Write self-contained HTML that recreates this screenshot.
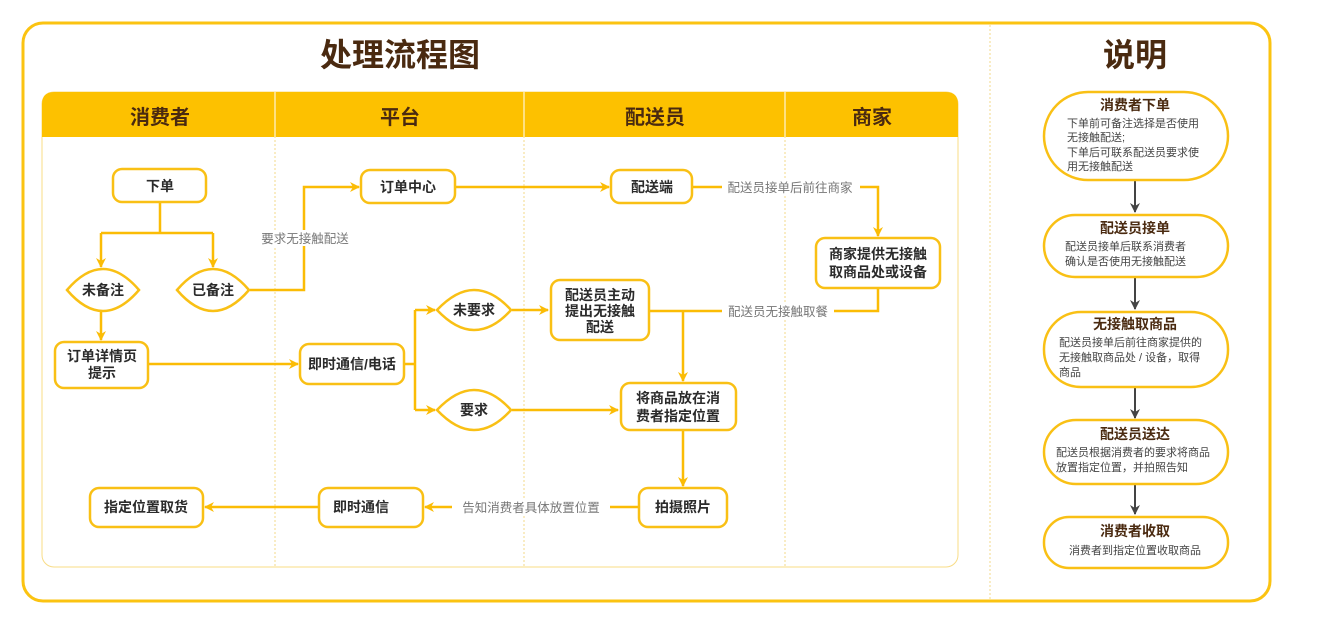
<!DOCTYPE html>
<html><head><meta charset="utf-8"><style>
html,body{margin:0;padding:0;background:#fff;width:1340px;height:625px;overflow:hidden}
text{font-family:"Liberation Sans","Noto Sans CJK SC",sans-serif}
.n{fill:#fff;stroke:#F9C015;stroke-width:2.5}
.l{fill:none;stroke:#FBBC05;stroke-width:2.5}
.t{font-size:14px;font-weight:bold;fill:#2b2b2b;text-anchor:middle}
.g{font-size:12.5px;fill:#777;text-anchor:middle}
.h{font-size:20px;font-weight:bold;fill:#4a2a10;text-anchor:middle}
.rt{font-size:14px;font-weight:bold;fill:#4a2a10;text-anchor:middle}
.rb{font-size:11px;fill:#444}
</style></head><body>
<svg width="1340" height="625" viewBox="0 0 1340 625" xmlns="http://www.w3.org/2000/svg">
<defs>
<marker id="a" markerWidth="10" markerHeight="10" refX="9" refY="5" orient="auto" markerUnits="userSpaceOnUse"><path d="M0,0 L10,5 L0,10 L3,5 z" fill="#FBBC05"/></marker>
<marker id="d" markerWidth="10" markerHeight="10" refX="9" refY="5" orient="auto" markerUnits="userSpaceOnUse"><path d="M0,0 L10,5 L0,10 L3,5 z" fill="#444"/></marker>
</defs>
<rect x="23" y="23" width="1247" height="578" rx="20" fill="#fff" stroke="#FBC311" stroke-width="3"/>
<line x1="990" y1="25" x2="990" y2="600" stroke="#F3D98A" stroke-width="1" stroke-dasharray="2,2"/>
<text x="400" y="66" style="font-size:32px;font-weight:bold;fill:#4a2a10;text-anchor:middle">处理流程图</text>
<text x="1135" y="66" style="font-size:32px;font-weight:bold;fill:#4a2a10;text-anchor:middle">说明</text>

<rect x="42" y="92" width="916" height="475" rx="12" fill="#fff" stroke="#F8DC86" stroke-width="1"/>
<path d="M42,137 L42,104 Q42,92 54,92 L946,92 Q958,92 958,104 L958,137 Z" fill="#FDC100"/>
<g stroke="#F3D98A" stroke-width="1" stroke-dasharray="2,2">
<line x1="275" y1="92" x2="275" y2="567"/><line x1="524" y1="92" x2="524" y2="567"/><line x1="785" y1="92" x2="785" y2="567"/>
</g>
<g stroke="#fff" stroke-width="1"><line x1="275" y1="92" x2="275" y2="137"/><line x1="524" y1="92" x2="524" y2="137"/><line x1="785" y1="92" x2="785" y2="137"/></g>
<text class="h" x="160" y="124">消费者</text>
<text class="h" x="400" y="124">平台</text>
<text class="h" x="655" y="124">配送员</text>
<text class="h" x="872" y="124">商家</text>

<!-- connectors -->
<path class="l" d="M160,202 V233 M101,233 H213"/>
<path class="l" d="M101,233 V267" marker-end="url(#a)"/>
<path class="l" d="M213,233 V267" marker-end="url(#a)"/>
<path class="l" d="M101,311 V340" marker-end="url(#a)"/>
<path class="l" d="M250,290 H304 V187 H359" marker-end="url(#a)"/>
<rect x="258" y="230" width="94" height="16" fill="#fff"/>
<text class="g" x="305" y="243">要求无接触配送</text>
<path class="l" d="M148,364 H298" marker-end="url(#a)"/>
<path class="l" d="M404,364 H415 M415,310 V410"/>
<path class="l" d="M415,310 H435" marker-end="url(#a)"/>
<path class="l" d="M415,410 H435" marker-end="url(#a)"/>
<path class="l" d="M455,187 H609" marker-end="url(#a)"/>
<path class="l" d="M692,187 H878 V236" marker-end="url(#a)"/>
<rect x="722" y="179" width="138" height="16" fill="#fff"/>
<text class="g" x="790" y="192">配送员接单后前往商家</text>
<path class="l" d="M878,288 V311 H649"/>
<rect x="722" y="303" width="112" height="16" fill="#fff"/>
<text class="g" x="778" y="316">配送员无接触取餐</text>
<path class="l" d="M512,310 H548" marker-end="url(#a)"/>
<path class="l" d="M683,311 V381" marker-end="url(#a)"/>
<path class="l" d="M512,410 H618" marker-end="url(#a)"/>
<path class="l" d="M683,430 V486" marker-end="url(#a)"/>
<path class="l" d="M639,507 H425" marker-end="url(#a)"/>
<rect x="452" y="499" width="158" height="16" fill="#fff"/>
<text class="g" x="531" y="512">告知消费者具体放置位置</text>
<path class="l" d="M319,507 H205" marker-end="url(#a)"/>

<!-- nodes -->
<rect class="n" x="113" y="169" width="93" height="33" rx="9"/><text class="t" x="160" y="191">下单</text>
<path class="n" d="M67,290 Q85,269 103,269 Q121,269 139,290 Q121,311 103,311 Q85,311 67,290 Z"/><text class="t" x="103" y="295">未备注</text>
<path class="n" d="M177,290 Q195,269 213,269 Q231,269 249,290 Q231,311 213,311 Q195,311 177,290 Z"/><text class="t" x="213" y="295">已备注</text>
<rect class="n" x="55" y="342" width="93" height="46" rx="9"/><text class="t" x="102" y="361">订单详情页</text><text class="t" x="102" y="378">提示</text>
<rect class="n" x="300" y="344" width="104" height="40" rx="9"/><text class="t" x="352" y="369">即时通信/电话</text>
<rect class="n" x="361" y="170" width="94" height="33" rx="9"/><text class="t" x="408" y="192">订单中心</text>
<path class="n" d="M437,310 Q456,290 474,290 Q493,290 511,310 Q493,330 474,330 Q456,330 437,310 Z"/><text class="t" x="474" y="315">未要求</text>
<path class="n" d="M437,410 Q456,390 474,390 Q493,390 511,410 Q493,430 474,430 Q456,430 437,410 Z"/><text class="t" x="474" y="415">要求</text>
<rect class="n" x="611" y="170" width="81" height="33" rx="9"/><text class="t" x="652" y="192">配送端</text>
<rect class="n" x="551" y="280" width="98" height="60" rx="9"/><text class="t" x="600" y="300">配送员主动</text><text class="t" x="600" y="316">提出无接触</text><text class="t" x="600" y="332">配送</text>
<rect class="n" x="816" y="238" width="124" height="50" rx="9"/><text class="t" x="878" y="259">商家提供无接触</text><text class="t" x="878" y="277">取商品处或设备</text>
<rect class="n" x="621" y="383" width="115" height="47" rx="9"/><text class="t" x="678" y="403">将商品放在消</text><text class="t" x="678" y="421">费者指定位置</text>
<rect class="n" x="639" y="488" width="88" height="39" rx="9"/><text class="t" x="683" y="512">拍摄照片</text>
<rect class="n" x="319" y="488" width="104" height="39" rx="9"/><text class="t" x="361" y="512">即时通信</text>
<rect class="n" x="90" y="488" width="113" height="39" rx="9"/><text class="t" x="146" y="512">指定位置取货</text>

<!-- right column -->
<g stroke="#444" stroke-width="2">
<line x1="1135" y1="181" x2="1135" y2="212" marker-end="url(#d)"/>
<line x1="1135" y1="278" x2="1135" y2="309" marker-end="url(#d)"/>
<line x1="1135" y1="387" x2="1135" y2="418" marker-end="url(#d)"/>
<line x1="1135" y1="484" x2="1135" y2="514" marker-end="url(#d)"/>
</g>
<rect class="n" x="1044" y="92" width="184" height="88" rx="44"/>
<text class="rt" x="1135" y="110">消费者下单</text>
<text class="rb" x="1067" y="127">下单前可备注选择是否使用</text>
<text class="rb" x="1067" y="141">无接触配送;</text>
<text class="rb" x="1067" y="156">下单后可联系配送员要求使</text>
<text class="rb" x="1067" y="170">用无接触配送</text>
<rect class="n" x="1044" y="215" width="184" height="62" rx="31"/>
<text class="rt" x="1135" y="233">配送员接单</text>
<text class="rb" x="1065" y="250">配送员接单后联系消费者</text>
<text class="rb" x="1065" y="265">确认是否使用无接触配送</text>
<rect class="n" x="1044" y="312" width="184" height="75" rx="37"/>
<text class="rt" x="1135" y="329">无接触取商品</text>
<text class="rb" x="1059" y="346">配送员接单后前往商家提供的</text>
<text class="rb" x="1059" y="361">无接触取商品处 / 设备，取得</text>
<text class="rb" x="1059" y="376">商品</text>
<rect class="n" x="1044" y="420" width="184" height="64" rx="32"/>
<text class="rt" x="1135" y="439">配送员送达</text>
<text class="rb" x="1056" y="456">配送员根据消费者的要求将商品</text>
<text class="rb" x="1056" y="471">放置指定位置，并拍照告知</text>
<rect class="n" x="1044" y="517" width="184" height="51" rx="25"/>
<text class="rt" x="1135" y="536">消费者收取</text>
<text class="rb" x="1135" y="554" style="text-anchor:middle">消费者到指定位置收取商品</text>
</svg>
</body></html>
